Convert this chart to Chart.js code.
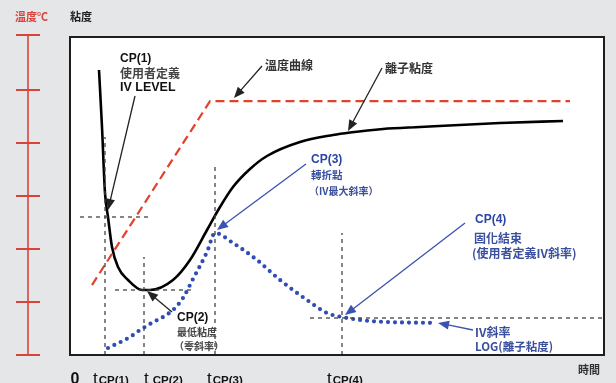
<!DOCTYPE html>
<html>
<head>
<meta charset="utf-8">
<script src="https://cdn.jsdelivr.net/npm/chart.js@4"></script>
<style>
  html, body { margin: 0; padding: 0; background: #e5e6e8; }
  canvas { display: block; }
</style>
</head>
<body>
<canvas id="cureChart" width="616" height="383"></canvas>
<script>
// time axis (arbitrary units) and the CP marks on it
const timeTicks = [0, 35, 74, 145, 272];
const tickNames = ["0", "CP(1)", "CP(2)", "CP(3)", "CP(4)"];

// ion viscosity (black curve)
const viscTime = [29, 32, 35, 38, 42, 48, 58, 72, 80, 103, 120, 137, 150, 163, 180, 197, 230, 263, 280, 313, 350, 430, 493];
const viscValue = [285, 228, 162, 138, 108, 88, 75, 65, 65, 75, 95, 125, 148, 168, 186, 199, 213, 220, 222.5, 226, 228, 232, 234];

// temperature (red dashed), own scale 0..6
const tempTime = [22, 140, 500];
const tempValue = [1.32, 4.79, 4.79];
const tempTicks = [0, 1, 2, 3, 4, 5, 6];

// IV slope (blue dotted)
const slopeTime = [38, 60, 70, 80, 103, 113, 123, 137, 145, 163, 187, 210, 237, 257, 272, 300, 365];
const slopeValue = [7, 18, 25, 31, 45, 57, 76, 103, 122, 112, 95, 75, 55, 42, 38, 34, 32];

// guide lines at each CP
const cpTime = [35, 74, 145, 272];
const cpGuideTop = [218, 98, 192, 122];
const cpLevel = [138, 65, null, 37];
const cpLevelFrom = [10, 45, null, 240];
const cpLevelTo = [80, 125, null, 534];

// annotations: text and arrows, anchored in data units
const latin = "bold 12px 'Liberation Sans'";
const cjk = size => "bold " + size + "px 'Noto Sans CJK TC'";
const notes = [
    { t: 50, v: 296, text: "CP(1)", font: latin, color: "#111" },
    { t: 50, v: 282, text: "使用者定義", font: cjk(12), color: "#444" },
    { t: 50, v: 267, text: "IV LEVEL", font: "bold 12.5px 'Liberation Sans'", color: "#111" },
    { t: 195, v: 290, text: "溫度曲線", font: cjk(12), color: "#333" },
    { t: 315, v: 287, text: "離子粘度", font: cjk(12), color: "#333" },
    { t: 241, v: 195, text: "CP(3)", font: latin, color: "#2b45a6" },
    { t: 241, v: 180, text: "轉折點", font: cjk(10.5), color: "#3a4f9e" },
    { t: 239, v: 164, text: "（IV最大斜率）", font: cjk(10), color: "#3a4f9e" },
    { t: 405, v: 135, text: "CP(4)", font: latin, color: "#2b45a6" },
    { t: 404, v: 117, text: "固化結束", font: cjk(12), color: "#3a4f9e" },
    { t: 402, v: 102, text: "(使用者定義IV斜率)", font: cjk(12), color: "#3a4f9e" },
    { t: 107, v: 37, text: "CP(2)", font: latin, color: "#111" },
    { t: 107, v: 23, text: "最低粘度", font: cjk(10), color: "#444" },
    { t: 104, v: 9, text: "（零斜率）", font: cjk(10), color: "#444" },
    { t: 405, v: 23, text: "IV斜率", font: cjk(12), color: "#3a4f9e" },
    { t: 405, v: 8, text: "LOG(離子粘度)", font: cjk(11.5), color: "#3a4f9e" }
];

const arrows = [
    { from: [65, 259], to: [38, 145], color: "#222" },
    { from: [192, 289], to: [164, 257], color: "#222" },
    { from: [312, 287], to: [278, 224], color: "#222" },
    { from: [102, 43], to: [77, 64], color: "#222" },
    { from: [236, 191], to: [147, 125], color: "#3a52b0" },
    { from: [395, 132], to: [275, 40], color: "#3a52b0" },
    { from: [403, 25], to: [368, 32], color: "#3a52b0" }
];

function points(xs, ys) {
    return xs.map((x, i) => ({ x: x, y: ys[i] }));
}

// dashed guide datasets built from the CP arrays
const guideSets = [];
cpTime.forEach((t, i) => {
    guideSets.push({
        data: [{ x: t, y: 0 }, { x: t, y: cpGuideTop[i] }],
        borderColor: "#444", borderWidth: 1.3, borderDash: [4, 4],
        pointRadius: 0, tension: 0
    });
    if (cpLevel[i] !== null) {
        guideSets.push({
            data: [{ x: cpLevelFrom[i], y: cpLevel[i] }, { x: cpLevelTo[i], y: cpLevel[i] }],
            borderColor: "#444", borderWidth: 1.3, borderDash: [4, 4],
            pointRadius: 0, tension: 0
        });
    }
});

function drawArrow(ctx, x1, y1, x2, y2, color) {
    const ang = Math.atan2(y2 - y1, x2 - x1);
    const len = 11, half = 4.5;
    ctx.strokeStyle = color;
    ctx.fillStyle = color;
    ctx.lineWidth = 1.3;
    ctx.beginPath();
    ctx.moveTo(x1, y1);
    ctx.lineTo(x2 - Math.cos(ang) * len * 0.8, y2 - Math.sin(ang) * len * 0.8);
    ctx.stroke();
    ctx.beginPath();
    ctx.moveTo(x2, y2);
    ctx.lineTo(x2 - Math.cos(ang) * len - Math.sin(ang) * half, y2 - Math.sin(ang) * len + Math.cos(ang) * half);
    ctx.lineTo(x2 - Math.cos(ang) * len + Math.sin(ang) * half, y2 - Math.sin(ang) * len - Math.cos(ang) * half);
    ctx.closePath();
    ctx.fill();
}

const paper = {
    id: "paper",
    beforeDatasetsDraw(chart) {
        const { ctx, chartArea: a } = chart;
        ctx.save();
        ctx.fillStyle = "#ffffff";
        ctx.fillRect(a.left, a.top, a.right - a.left, a.bottom - a.top);
        ctx.restore();
    },
    afterDraw(chart) {
        const { ctx, chartArea: a } = chart;
        const xs = chart.scales.x, ys = chart.scales.y, ts = chart.scales.yT;
        ctx.save();

        // plot frame
        ctx.strokeStyle = "#1e1e1e";
        ctx.lineWidth = 2;
        ctx.strokeRect(a.left, a.top, a.right - a.left, a.bottom - a.top);

        // temperature axis on the far left
        const axisX = 28;
        ctx.strokeStyle = "#d8443c";
        ctx.lineWidth = 1.6;
        ctx.beginPath();
        ctx.moveTo(axisX, ts.getPixelForValue(6) - 2);
        ctx.lineTo(axisX, ts.getPixelForValue(0));
        ctx.stroke();
        ctx.lineWidth = 2;
        tempTicks.forEach(v => {
            const y = ts.getPixelForValue(v) - (v === 6 ? 2 : 0);
            ctx.beginPath();
            ctx.moveTo(axisX - 12, y);
            ctx.lineTo(axisX + 12, y);
            ctx.stroke();
        });

        // axis titles
        ctx.textBaseline = "middle";
        ctx.textAlign = "left";
        ctx.font = "bold 11px 'Noto Sans CJK TC'";
        ctx.fillStyle = "#d8443c";
        ctx.fillText("溫度℃", 15, 17);
        ctx.fillStyle = "#222";
        ctx.fillText("粘度", xs.getPixelForValue(0), 17);
        ctx.fillStyle = "#333";
        ctx.fillText("時間", 578, 370);

        // time tick labels
        const shift = [5, -12, 0, -8, -15];
        ctx.textBaseline = "alphabetic";
        timeTicks.forEach((t, i) => {
            let x = xs.getPixelForValue(t) + shift[i];
            ctx.fillStyle = "#111";
            if (i === 0) {
                ctx.font = "bold 16px 'Liberation Sans'";
                ctx.textAlign = "center";
                ctx.fillText(tickNames[i], x, 384);
                return;
            }
            ctx.textAlign = "left";
            ctx.font = "17px 'Liberation Sans'";
            ctx.fillText("t", x, 384);
            x += ctx.measureText("t").width + (i === 2 ? 4 : 1);
            ctx.font = "bold 11.5px 'Liberation Sans'";
            ctx.fillText(tickNames[i], x, 384);
        });

        // arrows and notes
        arrows.forEach(ar => {
            drawArrow(ctx,
                xs.getPixelForValue(ar.from[0]), ys.getPixelForValue(ar.from[1]),
                xs.getPixelForValue(ar.to[0]), ys.getPixelForValue(ar.to[1]),
                ar.color);
        });
        ctx.textAlign = "left";
        ctx.textBaseline = "middle";
        notes.forEach(n => {
            ctx.font = n.font;
            ctx.fillStyle = n.color;
            ctx.fillText(n.text, xs.getPixelForValue(n.t), ys.getPixelForValue(n.v));
        });

        ctx.restore();
    }
};

new Chart(document.getElementById("cureChart"), {
    type: "line",
    data: {
        datasets: [
            ...guideSets,
            {
                data: points(tempTime, tempValue),
                yAxisID: "yT",
                borderColor: "#e2412b", borderWidth: 2.2, borderDash: [9, 5],
                pointRadius: 0, tension: 0
            },
            {
                data: points(slopeTime, slopeValue),
                borderColor: "#2f4db5", borderWidth: 4.2, borderDash: [0, 7],
                borderCapStyle: "round",
                pointRadius: 0, cubicInterpolationMode: "monotone"
            },
            {
                data: points(viscTime, viscValue),
                borderColor: "#000", borderWidth: 2.6,
                pointRadius: 0, cubicInterpolationMode: "monotone"
            }
        ]
    },
    options: {
        responsive: false,
        animation: false,
        layout: { padding: { left: 70, right: 12, top: 37, bottom: 28 } },
        scales: {
            x: { type: "linear", min: 0, max: 534, display: false },
            y: { min: 0, max: 318, display: false },
            yT: { min: 0, max: 6, display: false }
        },
        plugins: {
            legend: { display: false },
            tooltip: { enabled: false }
        }
    },
    plugins: [paper]
});
</script>
</body>
</html>
